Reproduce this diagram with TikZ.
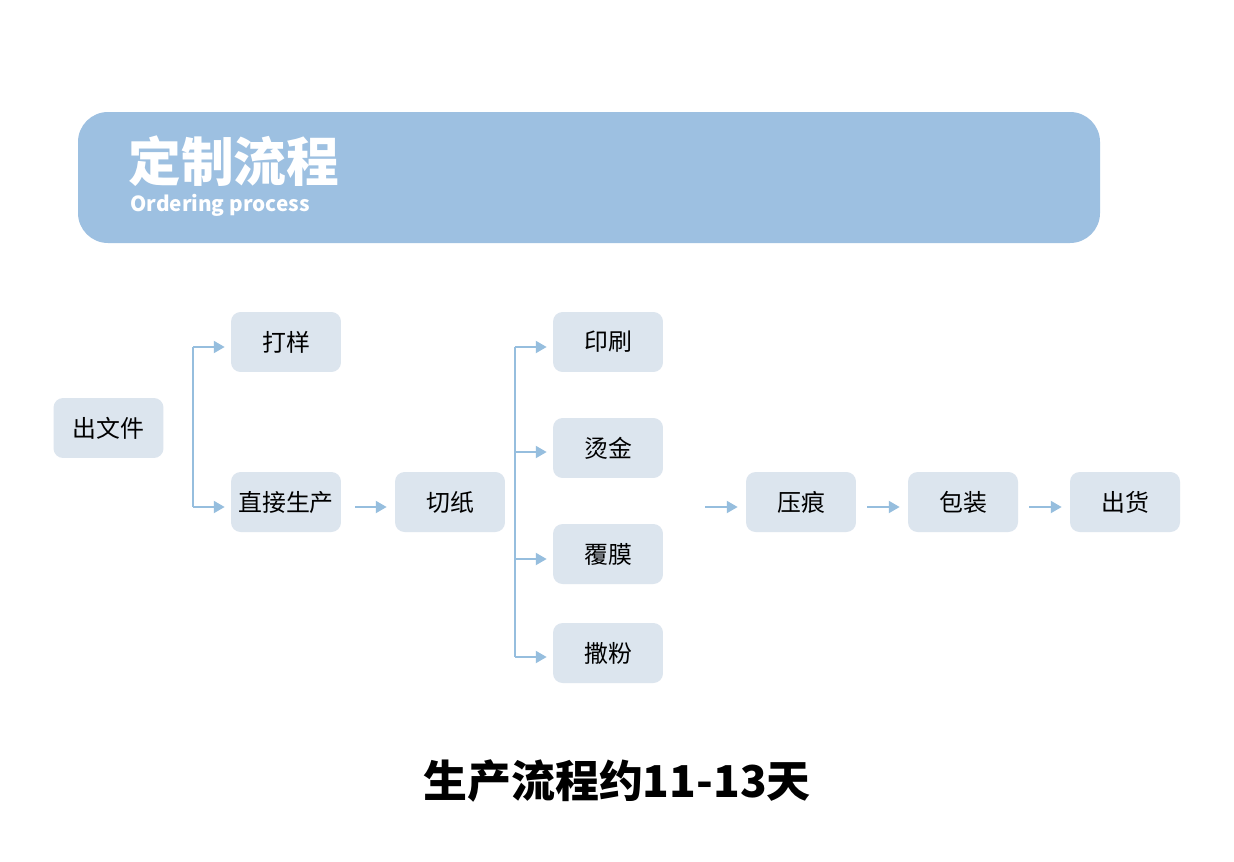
\documentclass[tikz,border=0pt]{standalone}
\usepackage{fontspec}
\setmainfont{Noto Sans CJK SC}
\usetikzlibrary{arrows.meta,positioning}
\definecolor{headblue}{RGB}{157,192,225}
\definecolor{boxgray}{RGB}{220,229,238}
\definecolor{arrowblue}{RGB}{150,190,222}

\tikzset{
    stepbox/.style={fill=boxgray, rounded corners=5.5pt, minimum width=2.2cm,
        minimum height=1.2cm, inner sep=0pt, font=\fontsize{13.6}{15}\selectfont},
    flow/.style={draw=arrowblue, line width=1.2pt,
        -{Triangle[length=6.2pt,width=6.8pt]}},
    forkline/.style={draw=arrowblue, line width=1.2pt}
}

\begin{document}
\begin{tikzpicture}[x=0.02cm, y=-0.02cm]
    % the page
    \fill[white] (0,0) rectangle (1234,862);
    \useasboundingbox (0,0) rectangle (1234,862);

    % the header bar
    \fill[headblue, rounded corners=0.6cm] (78,112) rectangle (1100,243);
    \node[anchor=west, inner sep=0pt, text=white] (title) at (128,161)
        {\fontsize{30}{30}\selectfont\bfseries 定制流程};
    \node[anchor=base west, inner sep=0pt, text=white] (subtitle) at (130,211)
        {\fontsize{11.8}{14}\selectfont\bfseries Ordering process};

    % the steps
    \node[stepbox] (files) at (108.5,428) {出文件};
    \node[stepbox] (sample) at (286,342) {打样};
    \node[stepbox] (direct) at (286,502) {直接生产};
    \node[stepbox] (cut) at (450,502) {切纸};
    \node[stepbox] (print) at (608,342) {印刷};
    \node[stepbox] (foil) at (608,448) {烫金};
    \node[stepbox] (film) at (608,554) {覆膜};
    \node[stepbox] (powder) at (608,653) {撒粉};
    \node[stepbox] (crease) at (801,502) {压痕};
    \node[stepbox] (pack) at (963,502) {包装};
    \node[stepbox] (ship) at (1125,502) {出货};

    % the fork points (free ends of the connectors)
    \coordinate (forkA) at (193,347);
    \coordinate (forkB) at (193,507);
    \coordinate (forkC) at (515,347);
    \coordinate (forkD) at (515,452);
    \coordinate (forkE) at (515,559);
    \coordinate (forkF) at (515,657);
    \coordinate (creasein) at (705,507);

    % draw the arrows
    \draw[forkline] (forkA) -- (forkB);
    \draw[flow, shorten >=0.12cm] (forkA) -- (forkA -| sample.west);
    \draw[flow, shorten >=0.12cm] (forkB) -- (forkB -| direct.west);
    \draw[flow, shorten <=0.28cm, shorten >=0.16cm]
        ([yshift=-1mm]direct.east) -- ([yshift=-1mm]cut.west);
    \draw[forkline] (forkC) -- (forkF);
    \draw[flow, shorten >=0.12cm] (forkC) -- (forkC -| print.west);
    \draw[flow, shorten >=0.12cm] (forkD) -- (forkD -| foil.west);
    \draw[flow, shorten >=0.12cm] (forkE) -- (forkE -| film.west);
    \draw[flow, shorten >=0.12cm] (forkF) -- (forkF -| powder.west);
    \draw[flow, shorten >=0.16cm] (creasein) -- (creasein -| crease.west);
    \draw[flow, shorten <=0.22cm, shorten >=0.16cm]
        ([yshift=-1mm]crease.east) -- ([yshift=-1mm]pack.west);
    \draw[flow, shorten <=0.22cm, shorten >=0.16cm]
        ([yshift=-1mm]pack.east) -- ([yshift=-1mm]ship.west);

    % the footer text
    \node[inner sep=0pt] (days) at (617,781)
        {\fontsize{25}{25}\selectfont\bfseries 生产流程约11-13天};
\end{tikzpicture}
\end{document}
